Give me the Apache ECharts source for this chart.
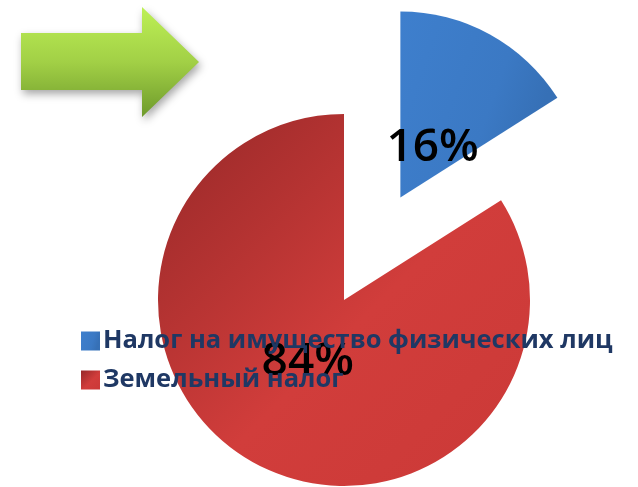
<!DOCTYPE html>
<html>
<head>
<meta charset="utf-8">
<script src="https://cdn.jsdelivr.net/npm/echarts@6/dist/echarts.min.js"></script>
<style>
  html, body { margin: 0; padding: 0; background: #fff; }
  #chart { width: 638px; height: 487px; }
</style>
</head>
<body>
<div id="chart"></div>
<script>
// данные
const names = ['Налог на имущество физических лиц', 'Земельный налог']
const values = [16, 84]

// сдвиг подписей внутри секторов
const labelShift = [[-14, 35], [10, -22]]

const sliceColors = [
  { type: 'linear', x: 0, y: 0, x2: 1, y2: 0.3,
    colorStops: [{ offset: 0, color: '#3e7fcd' }, { offset: 0.7, color: '#3b79c4' }, { offset: 1, color: '#3670b6' }] },
  { type: 'linear', x: 0, y: 0, x2: 1, y2: 1,
    colorStops: [{ offset: 0, color: '#962828' }, { offset: 0.55, color: '#d13d3b' }, { offset: 1, color: '#cb3937' }] }
]

const chart = echarts.init(document.getElementById('chart'))

chart.setOption({
  animation: false,
  graphic: [{
    type: 'polygon',
    shape: { points: [[21, 33], [142, 33], [142, 7], [199, 62], [142, 117], [142, 90], [21, 90]] },
    style: {
      fill: { type: 'linear', x: 0, y: 0, x2: 0, y2: 1,
        colorStops: [{ offset: 0, color: '#bdf055' }, { offset: 0.5, color: '#a2d046' }, { offset: 1, color: '#6e9a2b' }] },
      shadowBlur: 8, shadowOffsetX: 2, shadowOffsetY: 4, shadowColor: 'rgba(0,0,0,0.35)'
    }
  }],
  legend: {
    orient: 'vertical',
    left: 76,
    top: 323,
    itemWidth: 19,
    itemHeight: 19,
    itemGap: 13,
    icon: 'rect',
    z: 10,
    textStyle: {
      fontFamily: 'Open Sans',
      fontWeight: 'bold',
      fontSize: 25.5,
      lineHeight: 19,
      color: '#1f3864',
      padding: [0, 0, 0, -2]
    }
  },
  series: [{
    type: 'pie',
    center: [344, 300],
    radius: 186,
    startAngle: 90,
    clockwise: true,
    selectedMode: 'single',
    selectedOffset: 117,
    label: {
      position: 'inside',
      formatter: '{d}%',
      fontFamily: 'Open Sans',
      fontWeight: 600,
      fontSize: 46,
      color: '#000'
    },
    labelLine: { show: false },
    labelLayout: (p) => ({ dx: labelShift[p.dataIndex][0], dy: labelShift[p.dataIndex][1] }),
    emphasis: { disabled: true },
    data: names.map((n, i) => ({
      name: n,
      value: values[i],
      selected: i === 0,
      itemStyle: { color: sliceColors[i] }
    }))
  }]
})
</script>
</body>
</html>
